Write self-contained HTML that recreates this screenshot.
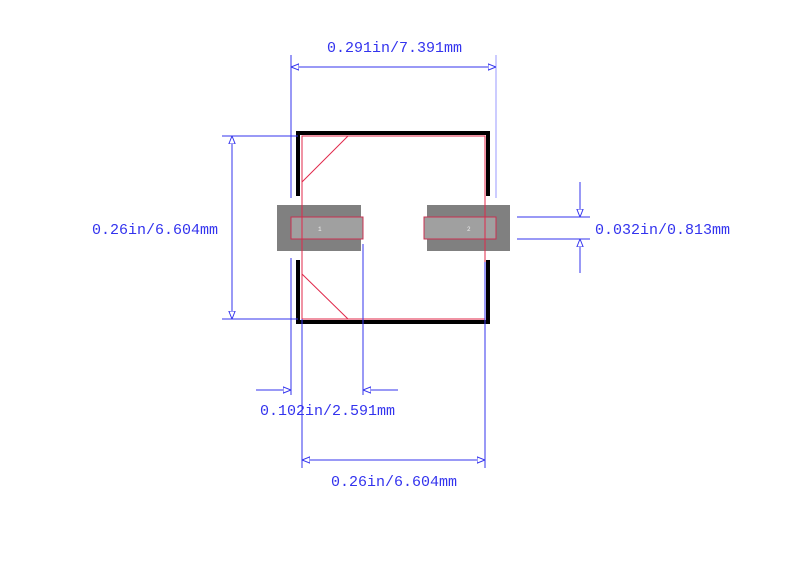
<!DOCTYPE html>
<html><head><style>body{margin:0;background:#fff}svg{display:block}text{font-family:"Liberation Mono",monospace;font-size:15px;fill:#3333ee}</style></head><body>
<svg width="800" height="574" viewBox="0 0 800 574" xmlns="http://www.w3.org/2000/svg">
<defs>
<marker id="a" viewBox="0 0 10 10" refX="10" refY="5" markerWidth="8" markerHeight="8" orient="auto-start-reverse" markerUnits="userSpaceOnUse"><path d="M0,1 L10,5 L0,9 Z" fill="#fff" stroke="#3333ee" stroke-width="1.2"/></marker>
</defs>
<!-- pads -->
<rect x="277" y="205" width="84" height="46" fill="#808080"/>
<rect x="427" y="205" width="83" height="46" fill="#808080"/>
<rect x="291" y="217" width="72" height="22" fill="#a0a0a0" stroke="#c83050" stroke-width="1"/>
<rect x="424" y="217" width="72" height="22" fill="#a0a0a0" stroke="#c83050" stroke-width="1"/>
<text x="318" y="231" style="font-size:6px;fill:#eee">1</text>
<text x="467" y="231" style="font-size:6px;fill:#eee">2</text>
<!-- silkscreen -->
<g stroke="#000" stroke-width="4" fill="none">
<path d="M298,196 V133 H488 V196"/>
<path d="M298,260 V322 H488 V260"/>
</g>
<!-- red body -->
<g stroke="#e0284a" stroke-width="1" fill="none">
<rect x="302" y="136" width="183" height="183"/>
<line x1="348" y1="136" x2="302" y2="182"/>
<line x1="302" y1="274" x2="348" y2="319"/>
</g>
<!-- dimensions -->
<g stroke="#3333ee" stroke-width="1" fill="none">
<line x1="291" y1="55" x2="291" y2="198"/>
<line x1="496" y1="55" x2="496" y2="198" stroke="#9999ff"/>
<line x1="291" y1="67" x2="496" y2="67" marker-start="url(#a)" marker-end="url(#a)"/>
<line x1="222" y1="136" x2="298" y2="136"/>
<line x1="222" y1="319" x2="298" y2="319"/>
<line x1="232" y1="136" x2="232" y2="319" marker-start="url(#a)" marker-end="url(#a)"/>
<line x1="517" y1="217" x2="590" y2="217"/>
<line x1="517" y1="239" x2="590" y2="239"/>
<line x1="580" y1="182" x2="580" y2="217" marker-end="url(#a)"/>
<line x1="580" y1="273" x2="580" y2="239" marker-end="url(#a)"/>
<line x1="291" y1="258" x2="291" y2="395"/>
<line x1="363" y1="244" x2="363" y2="395"/>
<line x1="256" y1="390" x2="291" y2="390" marker-end="url(#a)"/>
<line x1="398" y1="390" x2="363" y2="390" marker-end="url(#a)"/>
<line x1="302" y1="319" x2="302" y2="468"/>
<line x1="485" y1="262" x2="485" y2="468"/>
<line x1="302" y1="460" x2="485" y2="460" marker-start="url(#a)" marker-end="url(#a)"/>
</g>
<text x="327" y="52">0.291in/7.391mm</text>
<text x="92" y="234">0.26in/6.604mm</text>
<text x="595" y="234">0.032in/0.813mm</text>
<text x="260" y="415">0.102in/2.591mm</text>
<text x="331" y="486">0.26in/6.604mm</text>
</svg>
</body></html>
